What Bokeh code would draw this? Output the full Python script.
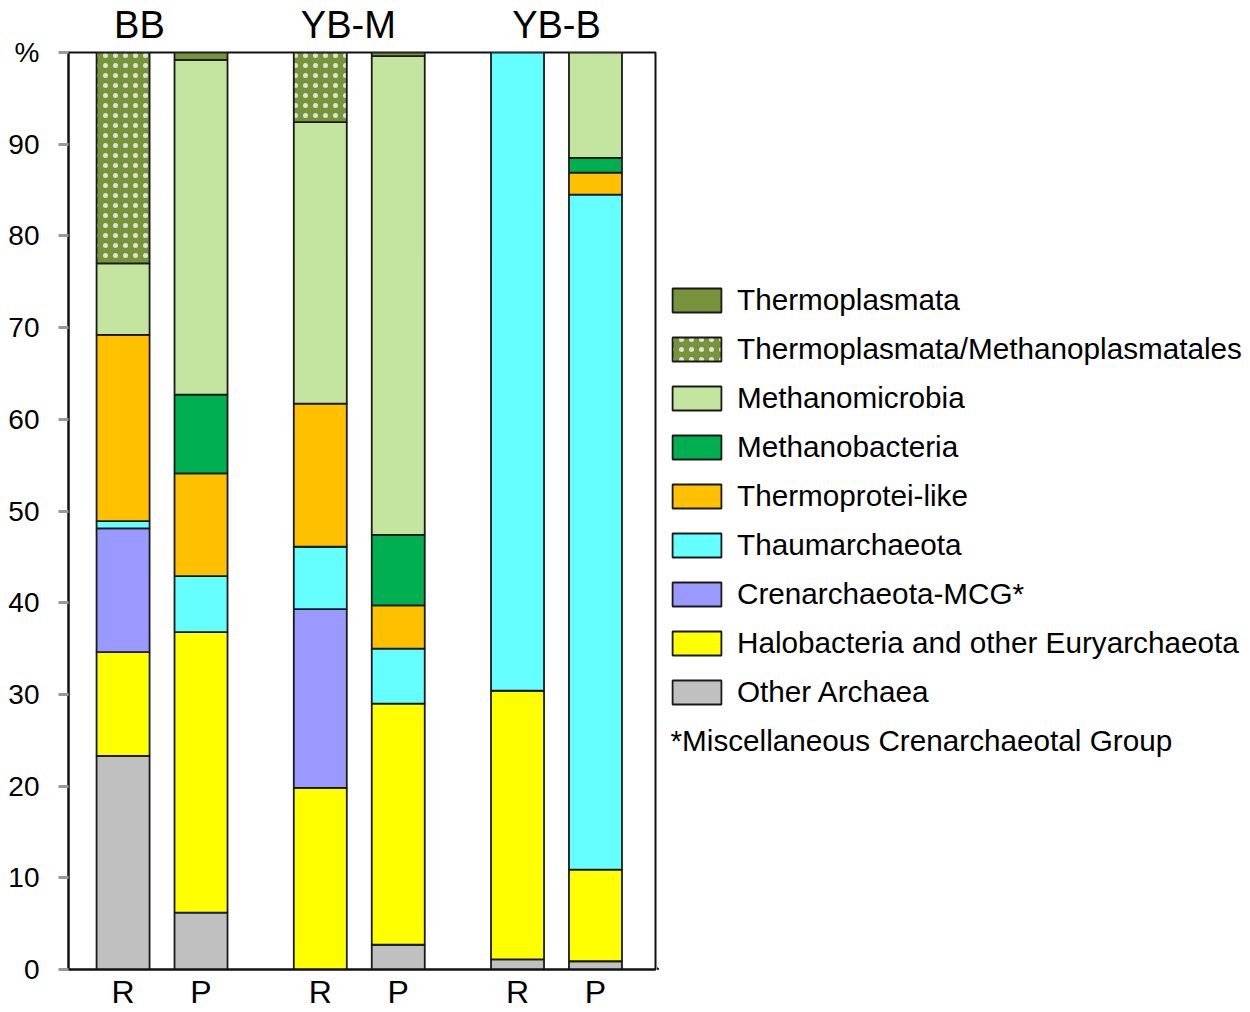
from bokeh.plotting import figure
from bokeh.layouts import row
from bokeh.models import (Range1d, FixedTicker, Legend, LegendItem, Label,
                          ColumnDataSource, LinearAxis)
from bokeh.embed import file_html
from bokeh.resources import INLINE

# ---------------- data ----------------
groups = ["BB", "YB-M", "YB-B"]
samples = ["R", "P", "R", "P", "R", "P"]
sample_group = [0, 0, 1, 1, 2, 2]
sample_idx = [0, 1, 0, 1, 0, 1]

categories = ["Other Archaea",
              "Halobacteria and other Euryarchaeota",
              "Crenarchaeota-MCG*",
              "Thaumarchaeota",
              "Thermoprotei-like",
              "Methanobacteria",
              "Methanomicrobia",
              "Thermoplasmata/Methanoplasmatales",
              "Thermoplasmata"]

other_archaea   = [23.3, 6.2, 0.0, 2.7, 1.1, 0.9]
halobacteria    = [11.3, 30.6, 19.8, 26.3, 29.3, 10.0]
crenarch_mcg    = [13.5, 0.0, 19.5, 0.0, 0.0, 0.0]
thaumarchaeota  = [0.8, 6.1, 6.8, 6.0, 69.6, 73.6]
thermoprotei    = [20.3, 11.2, 15.6, 4.7, 0.0, 2.4]
methanobacteria = [0.0, 8.6, 0.0, 7.7, 0.0, 1.6]
methanomicrobia = [7.8, 36.5, 30.7, 52.2, 0.0, 11.5]
thermo_methano  = [23.0, 0.0, 7.6, 0.0, 0.0, 0.0]
thermoplasmata  = [0.0, 0.8, 0.0, 0.4, 0.0, 0.0]

series = [other_archaea, halobacteria, crenarch_mcg, thaumarchaeota,
          thermoprotei, methanobacteria, methanomicrobia, thermo_methano,
          thermoplasmata]

y_ticks = [0, 10, 20, 30, 40, 50, 60, 70, 80, 90, 100]
y_tick_labels = ["0", "10", "20", "30", "40", "50", "60", "70", "80", "90", "%"]

footnote = "*Miscellaneous Crenarchaeotal Group"

# ---------------- styles ----------------
colors = ["#C0C0C0", "#FFFF00", "#9999FF", "#66FFFF", "#FFC000",
          "#00B050", "#C3E59F", "#77933C", "#77933C"]
hatches = [None, None, None, None, None, None, None, "dot", None]
FONT = "Liberation Sans"
EDGE = "#1a1a1a"

GROUP_STEP = 2.53
BAR_W = 0.68
TITLE_SHIFT = [-0.29, -0.14, 0.0]
xs = [g * GROUP_STEP + s for g, s in zip(sample_group, sample_idx)]
title_x = [g * GROUP_STEP + 0.5 + d for g, d in zip(range(len(groups)), TITLE_SHIFT)]


def style_kw(col, hat):
    kw = dict(fill_color=col, line_color=EDGE, line_width=1.8)
    if hat:
        kw.update(hatch_pattern=hat, hatch_color="white", hatch_scale=10,
                  hatch_weight=0.5, hatch_alpha=0.75)
    return kw


# ---------------- main chart ----------------
p = figure(width=657, height=1012, output_backend="svg", toolbar_location=None,
           x_range=Range1d(-0.70, 6.83), y_range=Range1d(0, 100),
           min_border_left=68, min_border_right=2, min_border_top=51,
           min_border_bottom=43)
p.grid.visible = False
p.outline_line_color = "#111111"
p.outline_line_width = 2
p.border_fill_color = "white"

bottoms = [0.0] * len(xs)
for name, vals, col, hat in zip(categories, series, colors, hatches):
    bx, bb, bt = [], [], []
    for i, v in enumerate(vals):
        if v > 0:
            bx.append(xs[i]); bb.append(bottoms[i]); bt.append(bottoms[i] + v)
        bottoms[i] += v
    src = ColumnDataSource(dict(x=bx, bottom=bb, top=bt))
    p.vbar(x="x", bottom="bottom", top="top", width=BAR_W, source=src,
           **style_kw(col, hat))

# y axis
ya = p.yaxis[0]
ya.ticker = FixedTicker(ticks=y_ticks)
ya.major_label_overrides = {t: l for t, l in zip(y_ticks, y_tick_labels)}
ya.major_label_text_font = FONT
ya.major_label_text_font_size = "28px"
ya.major_label_text_color = "black"
ya.major_tick_out = 10
ya.major_tick_in = 0
ya.major_tick_line_color = "#999999"
ya.major_tick_line_width = 3
ya.minor_tick_line_color = None
ya.axis_line_color = "#111111"
ya.axis_line_width = 2
ya.major_label_standoff = 19

# x axis (sample labels)
xa = p.xaxis[0]
xa.ticker = FixedTicker(ticks=xs)
xa.major_label_overrides = {x: s for x, s in zip(xs, samples)}
xa.major_label_text_font = FONT
xa.major_label_text_font_size = "32px"
xa.major_label_text_color = "black"
xa.major_tick_line_color = None
xa.minor_tick_line_color = None
xa.major_tick_out = 0
xa.major_tick_in = 0
xa.major_label_standoff = 4
xa.axis_line_color = "#111111"
xa.axis_line_width = 2

# top axis (group labels)
ta = LinearAxis(ticker=FixedTicker(ticks=title_x),
                major_label_overrides={c: g for c, g in zip(title_x, groups)},
                major_label_text_font=FONT, major_label_text_font_size="38px",
                major_label_text_color="black", major_label_standoff=7,
                axis_line_color=None, major_tick_line_color=None,
                minor_tick_line_color=None, major_tick_out=0, major_tick_in=0)
p.add_layout(ta, "above")

# ---------------- legend panel ----------------
q = figure(width=593, height=1012, output_backend="svg", toolbar_location=None,
           x_range=Range1d(0, 593), y_range=Range1d(0, 1012),
           x_axis_type=None, y_axis_type=None,
           min_border_left=0, min_border_right=0, min_border_top=0,
           min_border_bottom=0)
q.grid.visible = False
q.outline_line_color = None
q.border_fill_color = "white"

items = []
for name, col, hat in zip(categories, colors, hatches):
    # a single off-screen bar so that the legend has a glyph to draw
    r = q.vbar(x=[-1000], bottom=[0], top=[1], width=1, **style_kw(col, hat))
    items.append(LegendItem(label=name, renderers=[r]))
items = items[::-1]

legend = Legend(items=items, location=(9, 260), orientation="vertical",
                glyph_width=61, glyph_height=30, label_height=24,
                label_standoff=10, spacing=15, padding=0, margin=0,
                border_line_color=None, background_fill_alpha=0,
                label_text_font=FONT, label_text_font_size="29.7px",
                label_text_color="black")
q.add_layout(legend)

q.add_layout(Label(x=13, y=253, text=footnote, text_align="left",
                   text_baseline="middle", text_font=FONT,
                   text_font_size="29.7px", text_color="black"))

layout = row(p, q, spacing=0)
open("out.html", "w").write(file_html(layout, INLINE))
